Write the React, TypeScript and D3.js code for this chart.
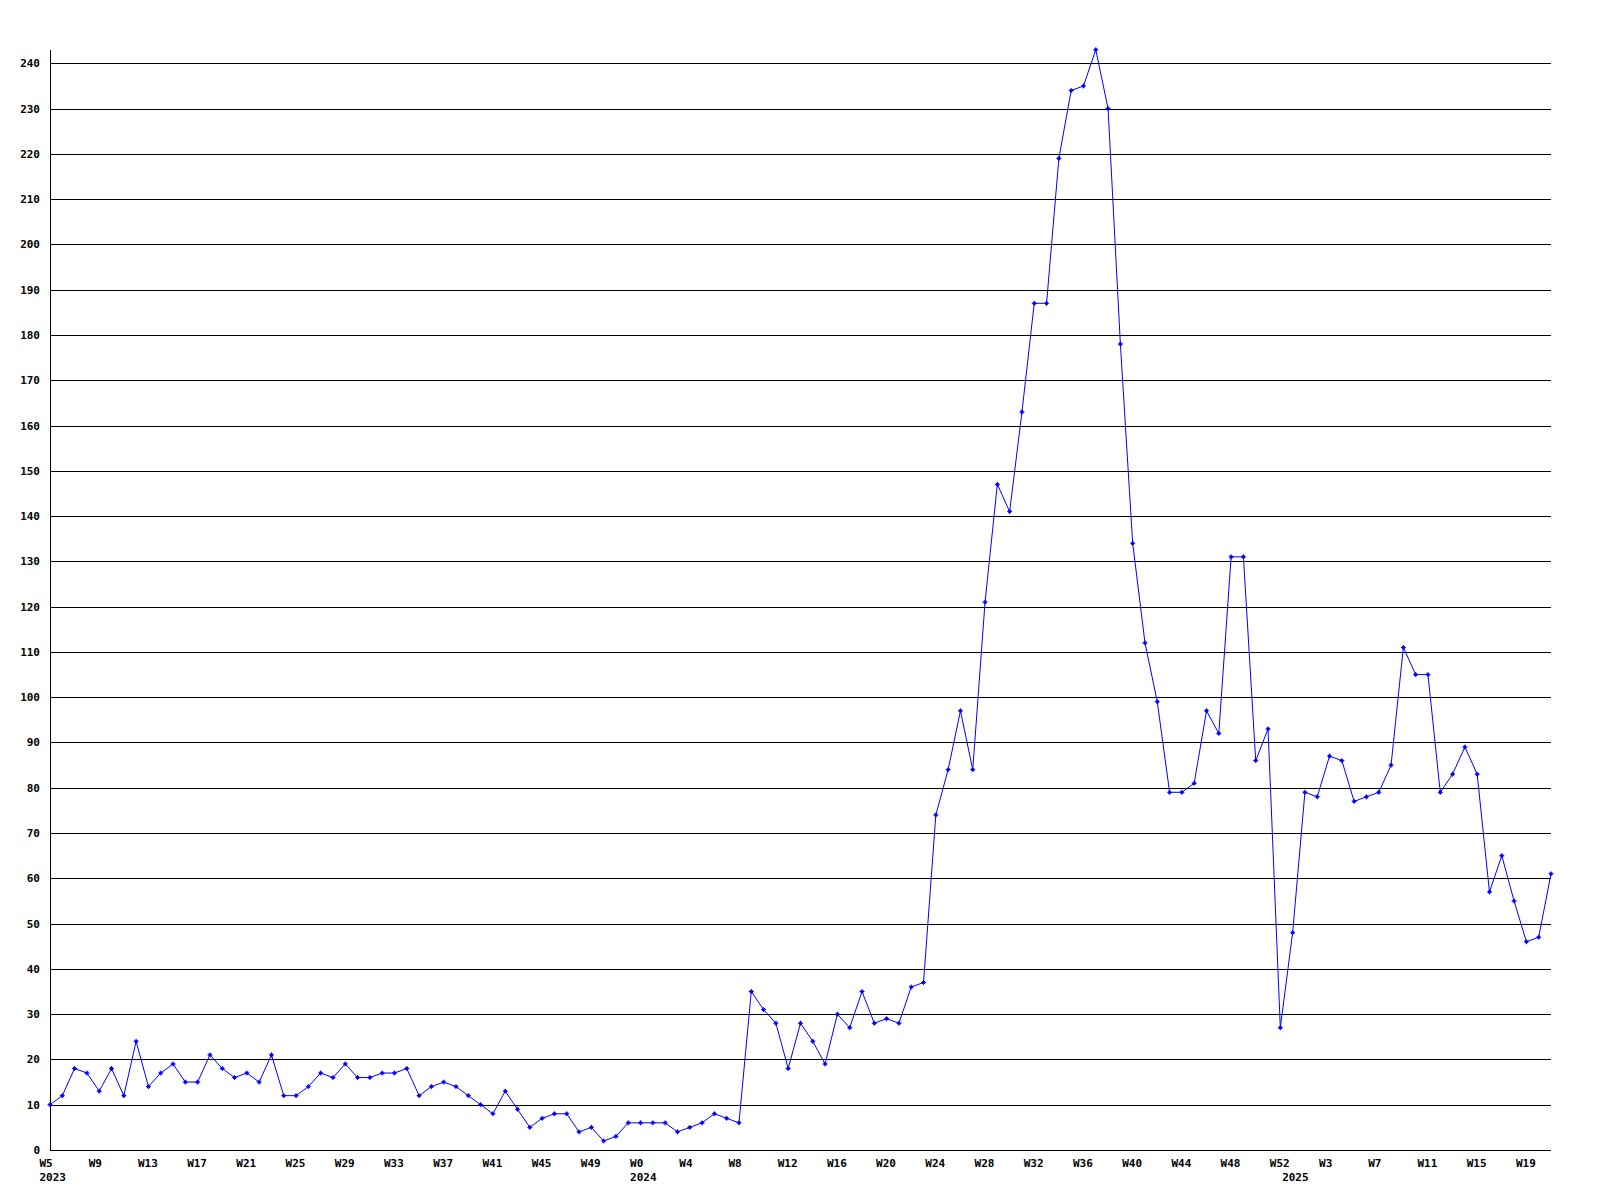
import React from "react";
import * as d3 from "d3";

// Weekly values
const values2023 = [10, 12, 18, 17, 13, 18, 12, 24, 14, 17, 19, 15, 15, 21, 18, 16, 17, 15, 21, 12, 12, 14, 17, 16, 19, 16, 16, 17, 17, 18, 12, 14, 15, 14, 12, 10, 8, 13, 9, 5, 7, 8, 8, 4, 5, 2, 3, 6];
const values2024 = [6, 6, 6, 4, 5, 6, 8, 7, 6, 35, 31, 28, 18, 28, 24, 19, 30, 27, 35, 28, 29, 28, 36, 37, 74, 84, 97, 84, 121, 147, 141, 163, 187, 187, 219, 234, 235, 243, 230, 178, 134, 112, 99, 79, 79, 81, 97, 92, 131, 131, 86, 93, 27];
const values2025 = [48, 79, 78, 87, 86, 77, 78, 79, 85, 111, 105, 105, 79, 83, 89, 83, 57, 65, 55, 46, 47, 61];

// Week numbers per year (categories)
const weeks2023 = d3.range(5, 53);
const weeks2024 = d3.range(0, 53);
const weeks2025 = d3.range(0, 22);

const yTicks = d3.range(0, 250, 10);

type Pt = { year: number; week: number; value: number; first: boolean };

const points: Pt[] = [
  ...weeks2023.map((w, i) => ({ year: 2023, week: w, value: values2023[i], first: i === 0 })),
  ...weeks2024.map((w, i) => ({ year: 2024, week: w, value: values2024[i], first: i === 0 })),
  ...weeks2025.map((w, i) => ({ year: 2025, week: w, value: values2025[i], first: i === 0 })),
];

export default function App() {
  const W = 1600;
  const H = 1200;
  const left = 50;
  const right = 1551;
  const bottom = 1150;

  const x = d3.scaleLinear().domain([0, points.length - 1]).range([left, right]);
  const y = d3.scaleLinear().domain([0, 240]).range([bottom, 63.33]);
  const maxV = d3.max(points, (p) => p.value) as number;

  const line = d3
    .line<Pt>()
    .x((_, i) => x(i))
    .y((p) => y(p.value));

  const font = "'DejaVu Sans Mono', monospace";
  const crisp = (v: number) => Math.round(v) + 0.5;

  return (
    <svg
      width={W}
      height={H}
      style={{ position: "absolute", left: 0, top: 0, background: "#fff" }}
    >
      <rect x={0} y={0} width={W} height={H} fill="#fff" />
      {/* gridlines */}
      {yTicks.map((t) => (
        <line
          key={"g" + t}
          x1={left}
          x2={right}
          y1={crisp(y(t))}
          y2={crisp(y(t))}
          stroke="#000"
          strokeWidth={1}
          shapeRendering="crispEdges"
        />
      ))}
      {/* y axis */}
      <line
        x1={left + 0.5}
        x2={left + 0.5}
        y1={y(maxV)}
        y2={bottom}
        stroke="#000"
        strokeWidth={1}
        shapeRendering="crispEdges"
      />
      {/* y labels */}
      {yTicks.map((t) => (
        <text
          key={"yl" + t}
          x={40}
          y={y(t) + 4}
          textAnchor="end"
          fontFamily={font}
          fontWeight="bold"
          fontSize={11}
          fill="#000"
        >
          {t}
        </text>
      ))}
      {/* x labels */}
      {points.map((p, i) =>
        i % 4 === 0 ? (
          <text
            key={"xl" + i}
            x={x(i) - 10.5}
            y={1166.5}
            fontFamily={font}
            fontWeight="bold"
            fontSize={11}
            fill="#000"
          >
            {"W" + p.week}
          </text>
        ) : null
      )}
      {points.map((p, i) =>
        p.first ? (
          <text
            key={"yr" + i}
            x={x(i) - 10.5}
            y={1180.5}
            fontFamily={font}
            fontWeight="bold"
            fontSize={11}
            fill="#000"
          >
            {p.year}
          </text>
        ) : null
      )}
      {/* data line */}
      <path d={line(points) || ""} fill="none" stroke="#0000ff" strokeWidth={1} />
      {/* markers */}
      {points.map((p, i) => (
        <g key={"m" + i} transform={`translate(${x(i)},${y(p.value)})`}>
          <path d="M-2.5,0H2.5M0,-2.5V2.5" stroke="#0000ff" strokeWidth={1} />
          <rect x={-1.5} y={-1.5} width={3} height={3} fill="#0000ff" />
        </g>
      ))}
    </svg>
  );
}
